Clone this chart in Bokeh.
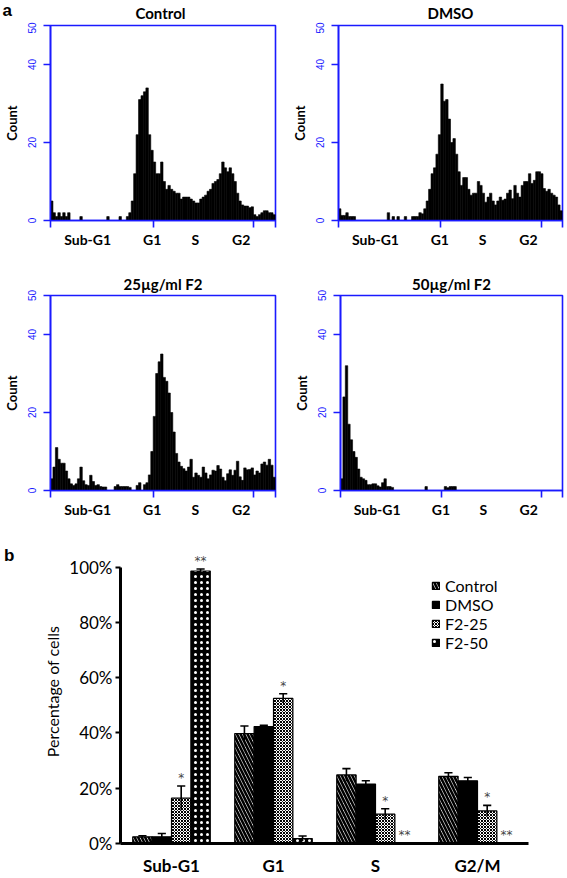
import numpy as np
from bokeh.plotting import figure
from bokeh.layouts import column, row
from bokeh.models import (FixedTicker, Range1d, FactorRange, ColumnDataSource,
                          Legend, LegendItem, LinearAxis, NumeralTickFormatter)
from bokeh.core.properties import value
from bokeh.transform import dodge
from bokeh.embed import file_html
from bokeh.resources import INLINE

FONT = "Lato"

# ---------------- panel a : DNA histograms ----------------
hist_titles = ["Control", "DMSO", "25\u00b5g/ml F2", "50\u00b5g/ml F2"]

control_counts = [5, 2, 1, 2, 1, 2, 1, 2, 0, 0,
                  0, 0, 1, 0, 0, 0, 0, 0, 0, 0,
                  0, 0, 0, 1, 0, 0, 0, 0, 1, 0,
                  0, 1, 2, 5, 12, 22, 31, 32, 33, 34,
                  22, 18, 15, 12, 12, 15, 10, 8, 9, 8,
                  7.5, 7, 7, 5.5, 6, 6, 6, 5.5, 5, 4.5,
                  4.5, 5.5, 6, 6.5, 7.5, 8, 9.5, 10, 10.5, 12,
                  15, 13.5, 12.5, 13.5, 12, 10, 7, 5, 4, 3.7,
                  3.7, 3.3, 3.5, 1.5, 1, 1.5, 2, 2.5, 2.5, 2,
                  2, 1.5]

dmso_counts = [3, 1.3, 1.3, 2, 1, 1, 1, 0, 0, 0,
               0, 0, 0, 0, 0, 0, 0, 0, 0, 0,
               2, 0, 1, 0, 1, 0, 0, 1, 0, 0,
               1, 1, 1, 2, 1.7, 3, 5, 8, 12, 13.5,
               17, 22, 35, 30.6, 31, 26, 20, 21, 17, 12.5,
               9, 11, 11, 8, 6.5, 7, 7, 10, 9, 7,
               4.7, 6, 7, 5, 4, 5, 6, 5.2, 5.5, 7,
               7.8, 5.6, 9, 7, 6, 9, 10, 10, 12, 9.5,
               10.3, 12.5, 12.5, 12, 8.2, 7.5, 8, 7, 6.5, 6,
               4, 2.5]

f2_25_counts = [3, 6, 11, 8, 7, 7, 5, 3, 1.7, 1.3,
                1.7, 3, 6, 2.5, 1.5, 1.3, 3.9, 2.3, 1.3, 1.5,
                1, 0.9, 0.9, 0, 0, 0, 1, 1.5, 1, 1,
                1, 1, 0.8, 0, 0, 1.3, 2, 0, 1.5, 2,
                4, 10, 19, 30, 33, 35, 29, 28, 25, 20,
                15, 9.5, 7.3, 6.2, 5.6, 5, 6, 8, 3.4, 4.5,
                3.9, 3.4, 6, 4.5, 3, 4, 5.2, 5, 6.4, 5.5,
                3.4, 2.5, 4.3, 5.3, 3.9, 5.2, 7.5, 3.5, 2.6, 5.8,
                5.3, 5.4, 5.8, 4, 5, 4.5, 6.8, 7.3, 6.5, 8,
                6.5, 3.4]

f2_50_counts = [3, 24, 32, 17, 13, 10, 8.5, 5.5, 3.4, 3,
                2.6, 1.5, 1.5, 1.7, 1.7, 1.2, 0.9, 2, 3, 1,
                1, 0.8, 0, 0, 0, 0, 0, 0, 0, 0,
                0, 0, 0, 0, 0, 1, 0, 0, 0, 0,
                0, 0, 0, 1, 0.7, 1, 1, 1, 0, 0,
                0, 0, 0, 0, 0, 0, 0, 0, 0, 0,
                0, 0, 0, 0, 0, 0, 0, 0, 0, 0,
                0, 0, 0, 0, 0, 0, 0, 0, 0, 0,
                0, 0, 0, 0, 0, 0, 0, 0, 0, 0,
                0, 0]

channel_max = 230
x_tick_marks = [0, 105, 208, 230]
phase_labels = ["Sub-G1", "G1", "S", "G2"]
phase_label_pos = [38, 104, 148, 195]
count_ticks = [0, 20, 40, 50]
count_max = 50

# ---------------- panel b : percentages ----------------
phases = ["Sub-G1", "G1", "S", "G2/M"]
groups = ["Control", "DMSO", "F2-25", "F2-50"]
control_pct = [2.4, 39.8, 24.8, 24.3]
dmso_pct = [2.4, 42.3, 21.5, 22.7]
f2_25_pct = [16.4, 52.5, 10.6, 11.8]
f2_50_pct = [98.6, 1.8, 0.0, 0.0]
control_err = [0.4, 2.7, 2.3, 1.3]
dmso_err = [1.2, 0.5, 1.2, 1.2]
f2_25_err = [4.4, 1.7, 2.0, 2.0]
f2_50_err = [0.7, 0.9, 0.0, 0.0]
control_sig = ["", "", "", ""]
dmso_sig = ["", "", "", ""]
f2_25_sig = ["*", "*", "*", "*"]
f2_50_sig = ["**", "", "**", "**"]
pct_ticks = [0, 0.2, 0.4, 0.6, 0.8, 1.0]

BLUE = "#1a1aff"

# ---------------- layout geometry (pixels) ----------------
W_L, W_R = 283, 284
STRIP_H = 22
TL = dict(w=W_L, h=265 - STRIP_H, bl=45, br=8, bt=3, bb=45)
TR = dict(w=W_R, h=265 - STRIP_H, bl=55, br=5, bt=3, bb=43)
BL = dict(w=W_L, h=266, bl=45, br=8, bt=30, bb=40)
BR = dict(w=W_R, h=266, bl=57, br=5, bt=30, bb=41)


def hist_fig(title, counts, g):
    p = figure(width=g["w"], height=g["h"], x_range=Range1d(0, channel_max),
               y_range=Range1d(0, count_max), output_backend="svg",
               toolbar_location=None, min_border_left=g["bl"], min_border_right=g["br"],
               min_border_top=g["bt"], min_border_bottom=g["bb"], title=title)
    edges = np.linspace(0, channel_max, len(counts) + 1)
    p.quad(left=edges[:-1], right=edges[1:], bottom=0, top=counts,
           fill_color="black", line_color="black", line_width=0.6)
    p.grid.visible = False
    p.outline_line_color = BLUE
    p.outline_line_width = 1.6
    if title is not None:
        t = p.title
        t.text_font = FONT
        t.text_font_size = "15px"
        t.text_font_style = "bold"
        t.align = "center"
        t.standoff = 5
        t.text_color = "black"

    ax = p.xaxis[0]
    ax.ticker = FixedTicker(ticks=phase_label_pos, minor_ticks=x_tick_marks)
    ax.major_label_overrides = {pos: lab for pos, lab in zip(phase_label_pos, phase_labels)}
    ax.axis_line_color = BLUE
    ax.axis_line_width = 1.6
    ax.major_tick_out = 0
    ax.major_tick_in = 0
    ax.major_tick_line_color = None
    ax.minor_tick_out = 7
    ax.minor_tick_in = 0
    ax.minor_tick_line_color = BLUE
    ax.minor_tick_line_width = 1.6
    ax.major_label_standoff = 3
    ax.major_label_text_font = FONT
    ax.major_label_text_font_size = "14px"
    ax.major_label_text_font_style = "bold"
    ax.major_label_text_color = "black"

    ay = p.yaxis[0]
    ay.ticker = FixedTicker(ticks=count_ticks, minor_ticks=[])
    ay.axis_line_color = BLUE
    ay.axis_line_width = 1.6
    ay.major_tick_out = 7
    ay.major_tick_in = 0
    ay.major_tick_line_color = BLUE
    ay.major_tick_line_width = 1.6
    ay.minor_tick_line_color = None
    ay.major_label_orientation = "vertical"
    ay.major_label_text_font = "Liberation Sans"
    ay.major_label_text_font_size = "10px"
    ay.major_label_text_color = BLUE
    ay.major_label_standoff = 8
    ay.axis_label = "Count"
    ay.axis_label_text_font = FONT
    ay.axis_label_text_font_size = "13px"
    ay.axis_label_text_font_style = "bold"
    ay.axis_label_text_color = "black"
    ay.axis_label_standoff = 5
    return p


# strip above the top row carrying the panel letter and the two top titles
strip = figure(width=W_L + W_R, height=STRIP_H, x_range=Range1d(0, W_L + W_R),
               y_range=Range1d(0, STRIP_H), x_axis_location=None, y_axis_location=None,
               toolbar_location=None, output_backend="svg", min_border=0)
strip.outline_line_color = None
strip.grid.visible = False
tl_center = TL["bl"] + (TL["w"] - TL["bl"] - TL["br"]) / 2
tr_center = W_L + TR["bl"] + (TR["w"] - TR["bl"] - TR["br"]) / 2
strip.text(x=[tl_center, tr_center], y=[STRIP_H - 12, STRIP_H - 12],
           text=hist_titles[:2], text_align="center", text_baseline="middle",
           text_font=value(FONT), text_font_size="15px", text_font_style="bold",
           text_color="black")
strip.text(x=[2], y=[STRIP_H], text=["a"], text_align="left", text_baseline="top",
           text_font=value("Liberation Sans"), text_font_size="17px",
           text_font_style="bold", text_color="black")

p1 = hist_fig(None, control_counts, TL)
p2 = hist_fig(None, dmso_counts, TR)
p3 = hist_fig(hist_titles[2], f2_25_counts, BL)
p4 = hist_fig(hist_titles[3], f2_50_counts, BR)

# ---------------- bar chart ----------------
pb = figure(width=567, height=347, x_range=FactorRange(factors=phases),
            y_range=Range1d(0, 1.1), output_backend="svg", toolbar_location=None,
            min_border_left=120, min_border_right=39, min_border_top=8,
            min_border_bottom=31)
pb.grid.visible = False
pb.outline_line_color = None

offsets = [-0.285, -0.095, 0.095, 0.285]
bar_w = 0.19
styles = [
    dict(fill_color="white", hatch_pattern="left_diagonal_line", hatch_color="black",
         hatch_scale=7, hatch_weight=2.6),
    dict(fill_color="black"),
    dict(fill_color="white", hatch_pattern="diagonal_cross", hatch_color="black",
         hatch_scale=3, hatch_weight=1.0),
    dict(fill_color="black", hatch_pattern="dot", hatch_color="white",
         hatch_scale=6, hatch_weight=0.5),
]
all_vals = [control_pct, dmso_pct, f2_25_pct, f2_50_pct]
all_errs = [control_err, dmso_err, f2_25_err, f2_50_err]
all_sigs = [control_sig, dmso_sig, f2_25_sig, f2_50_sig]

legend_items = []
for g, vals, errs, sigs, off, st in zip(groups, all_vals, all_errs, all_sigs, offsets, styles):
    src = ColumnDataSource(dict(
        phase=phases,
        top=[v / 100 for v in vals],
        lo=[(v - e) / 100 for v, e in zip(vals, errs)],
        hi=[(v + e) / 100 for v, e in zip(vals, errs)],
        sig=sigs,
        sig_y=[(v + e) / 100 + 0.004 for v, e in zip(vals, errs)],
    ))
    r = pb.vbar(x=dodge("phase", off, range=pb.x_range), top="top", width=bar_w,
                source=src, line_color="black", line_width=1.2, **st)
    legend_items.append(LegendItem(label=g, renderers=[r]))
    pb.segment(x0=dodge("phase", off, range=pb.x_range), y0="lo",
               x1=dodge("phase", off, range=pb.x_range), y1="hi",
               source=src, line_color="black", line_width=1.6)
    pb.segment(x0=dodge("phase", off - 0.04, range=pb.x_range), y0="hi",
               x1=dodge("phase", off + 0.04, range=pb.x_range), y1="hi",
               source=src, line_color="black", line_width=1.6)
    pb.text(x=dodge("phase", off, range=pb.x_range), y="sig_y", text="sig", source=src,
            text_align="center", text_baseline="bottom", text_font_size="12px",
            text_color="#444444", text_font=value("DejaVu Sans"))

leg = Legend(items=legend_items, location=(311, 191), glyph_width=9, glyph_height=9,
             label_text_font=FONT, label_text_font_size="16px", label_height=18,
             label_standoff=5, spacing=0, padding=0, margin=0,
             border_line_color=None, background_fill_alpha=0,
             label_text_color="black")
pb.add_layout(leg, "center")

xa = pb.xaxis[0]
xa.axis_line_width = 3
xa.axis_line_color = "black"
xa.major_tick_line_color = None
xa.major_tick_out = 0
xa.major_tick_in = 0
xa.minor_tick_line_color = None
xa.major_label_text_font = FONT
xa.major_label_text_font_size = "17px"
xa.major_label_text_font_style = "bold"
xa.major_label_text_color = "black"
xa.major_label_standoff = 11

ya = pb.yaxis[0]
ya.bounds = (0, 1)
ya.ticker = FixedTicker(ticks=pct_ticks, minor_ticks=[])
ya.formatter = NumeralTickFormatter(format="0%")
ya.axis_line_width = 3
ya.major_tick_out = 5
ya.major_tick_in = 0
ya.major_tick_line_width = 2
ya.major_label_standoff = 3
ya.major_label_text_font = FONT
ya.major_label_text_font_size = "17px"
ya.major_label_text_color = "black"
ya.axis_label = "Percentage of cells"
ya.axis_label_text_font = FONT
ya.axis_label_text_font_size = "16px"
ya.axis_label_text_font_style = "normal"
ya.axis_label_text_color = "black"
ya.axis_label_standoff = 4

# panel letter "b" as an outer left axis with a single labelled tick
b_level = 1.043
b_axis = LinearAxis(ticker=FixedTicker(ticks=[b_level], minor_ticks=[]),
                    major_label_overrides={b_level: "b"})
b_axis.axis_line_color = None
b_axis.major_tick_line_color = None
b_axis.major_tick_out = 0
b_axis.major_tick_in = 0
b_axis.minor_tick_line_color = None
b_axis.major_label_standoff = 26
b_axis.major_label_text_font = "Liberation Sans"
b_axis.major_label_text_font_size = "17px"
b_axis.major_label_text_font_style = "bold"
b_axis.major_label_text_color = "black"
pb.add_layout(b_axis, "left")

layout = column(row(strip, spacing=0), row(p1, p2, spacing=0),
                row(p3, p4, spacing=0), row(pb, spacing=0), spacing=0)

with open("out.html", "w") as f:
    f.write(file_html(layout, INLINE))
